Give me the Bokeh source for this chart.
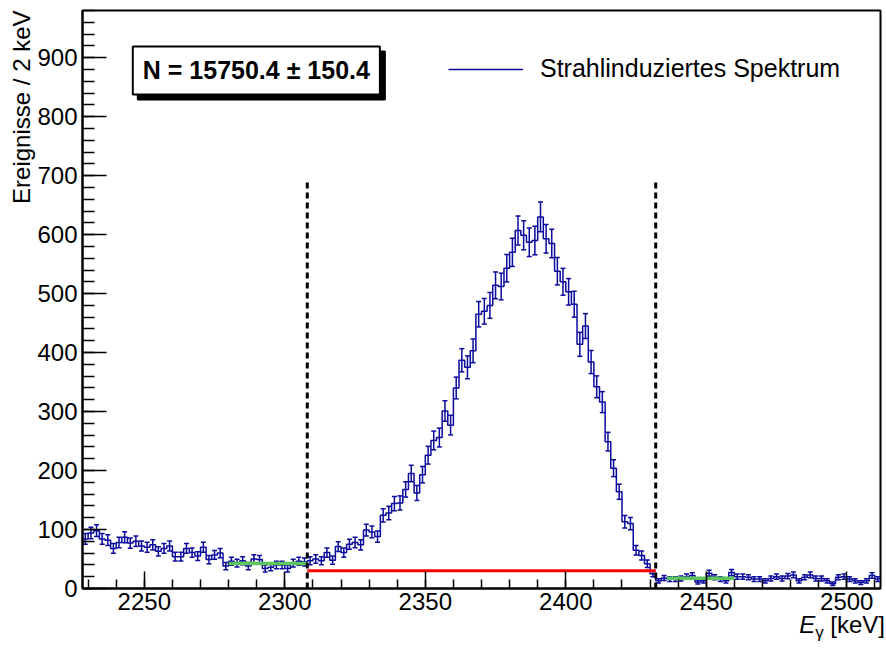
import numpy as np
from bokeh.plotting import figure
from bokeh.layouts import column
from bokeh.models import (Range1d, SingleIntervalTicker, Label, Legend,
                          LegendItem, ColumnDataSource, Title, Div)
from bokeh.embed import file_html
from bokeh.resources import INLINE

# ---------------- data ----------------
BIN_START = 2228.0      # keV, left edge of first bin
BIN_WIDTH = 2.0         # keV
counts = [
    84, 94, 98, 84, 82, 68, 78, 87, 77, 80,          # 2228-2246
    72, 70, 74, 63, 68, 72, 54, 54, 68, 61,          # 2248-2266
    55, 70, 49, 57, 60, 38, 46, 43, 47, 38,          # 2268-2286
    50, 49, 34, 36, 40, 40, 34, 43, 46, 45,          # 2288-2306
    47, 50, 47, 61, 48, 71, 61, 75, 78, 74,          # 2308-2326
    99, 96, 88, 124, 128, 144, 145, 168, 195, 162,   # 2328-2346
    193, 226, 251, 256, 301, 277, 340, 387, 375, 403,  # 2348-2366
    465, 470, 480, 514, 512, 543, 570, 607, 599, 587,  # 2368-2386
    590, 630, 593, 585, 538, 520, 503, 482, 414, 445,  # 2388-2406
    384, 342, 316, 249, 204, 164, 113, 110, 65, 56,    # 2408-2426
    42, 25, 13, 18, 16, 16, 17, 20, 22, 11,            # 2428-2446
    13, 26, 19, 16, 13, 27, 20, 20, 19, 16,            # 2448-2466
    16, 13, 17, 20, 17, 21, 23, 13, 19, 23,            # 2468-2486
    17, 17, 13, 8, 19, 20, 16, 13, 10, 13,             # 2488-2506
    22, 16,                                            # 2508-2510
]

WINDOW = [2308, 2432]            # integration window (dashed lines)
WINDOW_LINE_TOP = 690            # height of dashed window markers
BG_LEVEL = 30                    # background level under the peak (red)
SIDEBAND_LEFT = [2280, 2308]     # left background fit range (green)
SIDEBAND_LEFT_LEVEL = 42.5
SIDEBAND_RIGHT = [2436, 2460]    # right background fit range (green)
SIDEBAND_RIGHT_LEVEL = 17.5

N_TEXT = "N = 15750.4 \u00b1 150.4"
LEGEND_LABEL = "Strahlinduziertes Spektrum"
Y_LABEL = "Ereignisse / 2 keV"
X_RANGE = (2228, 2512)
Y_RANGE = (0, 980)

# ---------------- derived ----------------
counts = np.array(counts, dtype=float)
n = len(counts)
edges = BIN_START + BIN_WIDTH * np.arange(n + 1)
centers = 0.5 * (edges[:-1] + edges[1:])
err = np.sqrt(counts)

BLUE = "#0a0a9c"
FONT = "Liberation Sans"

p = figure(frame_width=798, frame_height=578, output_backend="svg",
           toolbar_location=None,
           x_range=Range1d(*X_RANGE), y_range=Range1d(*Y_RANGE),
           min_border_left=82, min_border_right=4, min_border_top=10,
           min_border_bottom=30)
p.xgrid.visible = False
p.ygrid.visible = False
p.outline_line_color = "black"
p.outline_line_width = 2
p.background_fill_color = "white"
p.border_fill_color = "white"

# axes
p.xaxis.ticker = SingleIntervalTicker(interval=50, num_minor_ticks=5)
p.yaxis.ticker = SingleIntervalTicker(interval=100, num_minor_ticks=5)
for ax in (p.xaxis[0], p.yaxis[0]):
    ax.axis_line_width = 2
    ax.major_tick_out = 0
    ax.minor_tick_out = 0
    ax.major_tick_line_width = 1.5
    ax.minor_tick_line_width = 1.5
    ax.major_label_text_font = FONT
    ax.major_label_text_font_size = "24px"
    ax.major_label_text_color = "black"
    ax.axis_label = None
p.xaxis.major_tick_in = 17
p.xaxis.minor_tick_in = 9
p.xaxis.major_label_standoff = 4
p.yaxis.major_tick_in = 24
p.yaxis.minor_tick_in = 12
p.yaxis.major_label_standoff = 5

# y axis title, aligned to the top of the axis
p.add_layout(Title(text=Y_LABEL, align="right", text_font=FONT,
                   text_font_size="24px", text_font_style="normal",
                   text_color="black", standoff=0), "left")

# histogram outline
step_src = ColumnDataSource(dict(x=edges, y=np.append(counts, counts[-1])))
step_r = p.step(x="x", y="y", source=step_src, mode="after",
                line_color=BLUE, line_width=1.5)

# error bars with caps
eb = ColumnDataSource(dict(x=centers, lo=counts - err, hi=counts + err))
p.segment(x0="x", y0="lo", x1="x", y1="hi", source=eb,
          line_color=BLUE, line_width=1.5)
p.scatter(x="x", y="lo", source=eb, marker="dash", size=5,
          line_color=BLUE, line_width=1.5)
p.scatter(x="x", y="hi", source=eb, marker="dash", size=5,
          line_color=BLUE, line_width=1.5)

# background sidebands (green)
GREEN = "#5cc65c"
p.line(SIDEBAND_LEFT, [SIDEBAND_LEFT_LEVEL] * 2, line_color=GREEN, line_width=3.5)
p.line(SIDEBAND_RIGHT, [SIDEBAND_RIGHT_LEVEL] * 2, line_color=GREEN, line_width=3.5)

# background under peak (red)
p.line(WINDOW, [BG_LEVEL] * 2, line_color="red", line_width=3)

# window markers
p.segment(x0=WINDOW, y0=[0, 0], x1=WINDOW, y1=[WINDOW_LINE_TOP] * 2,
          line_color="black", line_width=3, line_dash="6 4")

# legend
legend = Legend(items=[LegendItem(label=LEGEND_LABEL, renderers=[step_r])],
                location=(366, 505), orientation="vertical",
                glyph_width=75, glyph_height=20, label_height=20,
                label_standoff=17, padding=0, margin=0, spacing=0,
                label_text_font=FONT, label_text_font_size="25px",
                label_text_color="black",
                border_line_alpha=0, background_fill_alpha=0)
p.add_layout(legend, "center")

# N box with shadow
box_x, box_y = 2245.9, 878.4
shadow = Label(x=box_x, y=box_y, x_offset=5, y_offset=-5, text=N_TEXT,
               text_font=FONT, text_font_size="25px", text_font_style="bold",
               text_color="black", text_align="left", text_baseline="middle",
               background_fill_color="black", border_line_color="black",
               border_line_width=2, padding=10)
box = Label(x=box_x, y=box_y, text=N_TEXT,
            text_font=FONT, text_font_size="25px", text_font_style="bold",
            text_color="black", text_align="left", text_baseline="middle",
            background_fill_color="white", border_line_color="black",
            border_line_width=2, padding=10)
p.add_layout(shadow)
p.add_layout(box)

# x axis title: E_gamma [keV], right-aligned under the axis
xtitle = Div(
    text=('<span style="position:relative; top:-15px; white-space:nowrap;">'
          '<i>E</i><span style="font-size:17px; position:relative; top:5px;">'
          '\u03b3</span> [keV]</span>'),
    width=884, height=26,
    styles={"text-align": "right", "font-family": FONT, "font-size": "24px",
            "color": "black", "padding-right": "4px", "overflow": "visible"})

layout = column(p, xtitle, spacing=0)
open("out.html", "w").write(file_html(layout, INLINE))
